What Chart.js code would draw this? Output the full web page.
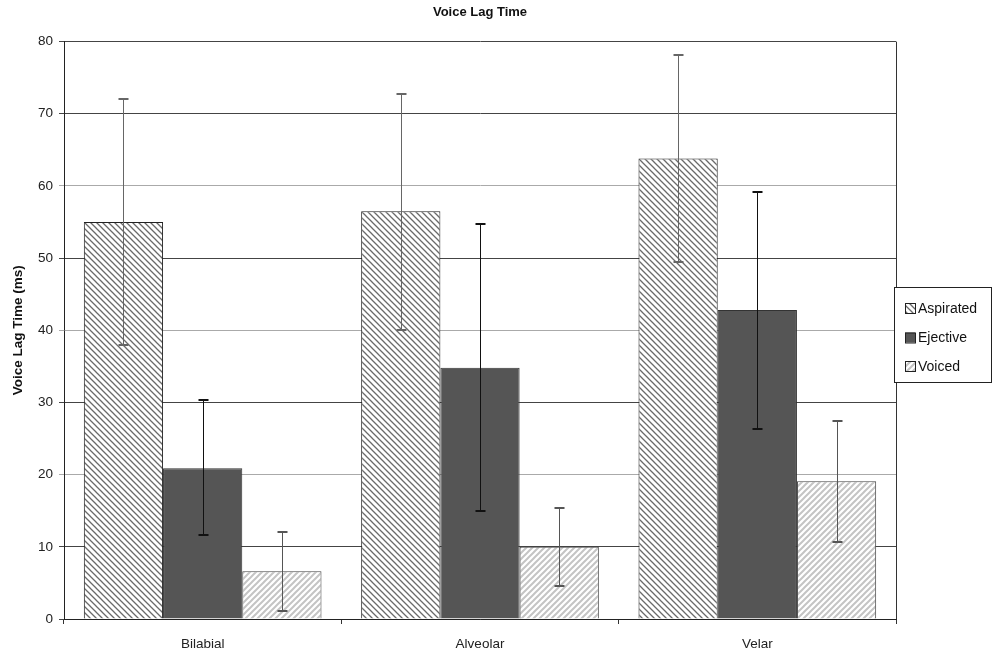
<!DOCTYPE html>
<html>
<head>
<meta charset="utf-8">
<script src="https://cdn.jsdelivr.net/npm/chart.js@4/dist/chart.umd.min.js"></script>
<style>
  html, body { margin: 0; padding: 0; background: #fff; }
  #wrap { width: 994px; height: 651px; }
</style>
</head>
<body>
<div id="wrap"><canvas id="plotCanvas"></canvas></div>
<script>
// categories and values
const categories = ["Bilabial", "Alveolar", "Velar"];
const aspirated = [55.0, 56.5, 63.8];
const aspiratedLow = [37.9, 40.1, 49.4];
const aspiratedHigh = [72.0, 72.8, 78.2];
const ejective = [20.9, 34.8, 42.8];
const ejectiveLow = [11.6, 14.9, 26.3];
const ejectiveHigh = [30.4, 54.7, 59.2];
const voiced = [6.6, 10.0, 19.1];
const voicedLow = [1.1, 4.6, 10.7];
const voicedHigh = [12.1, 15.4, 27.4];
const yTicks = [0, 10, 20, 30, 40, 50, 60, 70, 80];

const FONT = "'Liberation Sans', Arial, sans-serif";

// hatch patterns
function hatch(color, dir, lw) {
  const s = 6;
  const c = document.createElement("canvas");
  c.width = s; c.height = s;
  const g = c.getContext("2d");
  g.fillStyle = "#fff";
  g.fillRect(0, 0, s, s);
  g.strokeStyle = color;
  g.lineWidth = lw;
  g.beginPath();
  if (dir === "\\") {
    g.moveTo(-1, -1); g.lineTo(s + 1, s + 1);
    g.moveTo(-1, s - 1); g.lineTo(1, s + 1);
    g.moveTo(s - 1, -1); g.lineTo(s + 1, 1);
  } else {
    g.moveTo(-1, s + 1); g.lineTo(s + 1, -1);
    g.moveTo(-1, 1); g.lineTo(1, -1);
    g.moveTo(s - 1, s + 1); g.lineTo(s + 1, s - 1);
  }
  g.stroke();
  return g.createPattern(c, "repeat");
}
const aspPattern = hatch("#6a6a6a", "\\", 1.3);
const voicedPattern = hatch("#c4c4c4", "/", 2);

const errors = [
  { low: aspiratedLow, high: aspiratedHigh, color: "#666" },
  { low: ejectiveLow, high: ejectiveHigh, color: "#111" },
  { low: voicedLow, high: voicedHigh, color: "#555" },
];

const errorBars = {
  id: "errorBars",
  afterDatasetsDraw(chart) {
    const ctx = chart.ctx;
    const y = chart.scales.y;
    chart.data.datasets.forEach((ds, i) => {
      const meta = chart.getDatasetMeta(i);
      const e = errors[i];
      meta.data.forEach((bar, j) => {
        const x = Math.round(bar.x) + 0.5;
        const yl = Math.round(y.getPixelForValue(e.low[j]));
        const yh = Math.round(y.getPixelForValue(e.high[j]));
        ctx.save();
        ctx.strokeStyle = e.color;
        ctx.lineWidth = 1;
        ctx.beginPath();
        ctx.moveTo(x, yh); ctx.lineTo(x, yl);
        ctx.stroke();
        ctx.lineWidth = 2;
        ctx.beginPath();
        ctx.moveTo(x - 5, yh); ctx.lineTo(x + 5, yh);
        ctx.moveTo(x - 5, yl); ctx.lineTo(x + 5, yl);
        ctx.stroke();
        ctx.restore();
      });
    });
  },
};

const frameAndLegend = {
  id: "frameAndLegend",
  afterDraw(chart) {
    const ctx = chart.ctx;
    const a = chart.chartArea;
    ctx.save();
    ctx.strokeStyle = "#333";
    ctx.lineWidth = 1;
    ctx.beginPath();
    ctx.moveTo(Math.round(a.right) + 0.5, a.top);
    ctx.lineTo(Math.round(a.right) + 0.5, a.bottom);
    ctx.stroke();

    // legend box
    const bx = 894.5, by = 287.5, bw = 97, bh = 95;
    ctx.fillStyle = "#fff";
    ctx.fillRect(bx, by, bw, bh);
    ctx.strokeStyle = "#222";
    ctx.strokeRect(bx, by, bw, bh);
    ctx.font = "14px " + FONT;
    ctx.textBaseline = "middle";
    ctx.textAlign = "left";
    const rows = [308, 337.5, 366];
    chart.data.datasets.forEach((ds, i) => {
      const cy = rows[i];
      ctx.fillStyle = ds.backgroundColor;
      ctx.fillRect(905, cy - 5, 10, 10);
      ctx.strokeStyle = "#222";
      ctx.strokeRect(905.5, cy - 4.5, 10, 10);
      ctx.fillStyle = "#111";
      ctx.fillText(ds.label, 918, cy + 1);
    });
    ctx.restore();
  },
};

new Chart(document.getElementById("plotCanvas"), {
  type: "bar",
  data: {
    labels: categories,
    datasets: [
      { label: "Aspirated", data: aspirated, backgroundColor: aspPattern, borderColor: "#222", borderWidth: 1 },
      { label: "Ejective", data: ejective, backgroundColor: "#555", borderColor: "#333", borderWidth: 1 },
      { label: "Voiced", data: voiced, backgroundColor: voicedPattern, borderColor: "#444", borderWidth: 1 },
    ],
  },
  options: {
    responsive: true,
    maintainAspectRatio: false,
    animation: false,
    devicePixelRatio: 1,
    layout: { padding: { left: 0, right: 98, top: 0, bottom: 0 } },
    datasets: { bar: { categoryPercentage: 0.857, barPercentage: 1.0 } },
    plugins: {
      legend: { display: false },
      tooltip: { enabled: false },
      title: {
        display: true,
        text: "Voice Lag Time",
        fullSize: false,
        color: "#111",
        font: { family: FONT, size: 13, weight: "bold" },
        padding: { top: 5, bottom: 21 },
      },
    },
    scales: {
      x: {
        grid: { display: true, drawOnChartArea: false, offset: true, tickLength: 5, color: "#333" },
        border: { color: "#222", width: 1 },
        ticks: { color: "#222", font: { family: FONT, size: 13.5 }, padding: 12 },
        afterFit(s) { s.height = 32; },
      },
      y: {
        min: 0,
        max: 80,
        afterBuildTicks(s) { s.ticks = yTicks.map(v => ({ value: v })); },
        grid: {
          tickLength: 5,
          color: c => (c.tick && c.tick.value % 20 === 0 && c.tick.value !== 80 && c.tick.value !== 0) ? "#aaa" : "#444",
        },
        border: { color: "#222", width: 1 },
        ticks: { color: "#222", font: { family: FONT, size: 13.5 }, padding: 6 },
        title: {
          display: true,
          text: "Voice Lag Time (ms)",
          color: "#111",
          font: { family: FONT, size: 13.5, weight: "bold" },
          padding: { top: 10, bottom: 0 },
        },
        afterFit(s) { s.width = 64; },
      },
    },
  },
  plugins: [errorBars, frameAndLegend],
});
</script>
</body>
</html>
